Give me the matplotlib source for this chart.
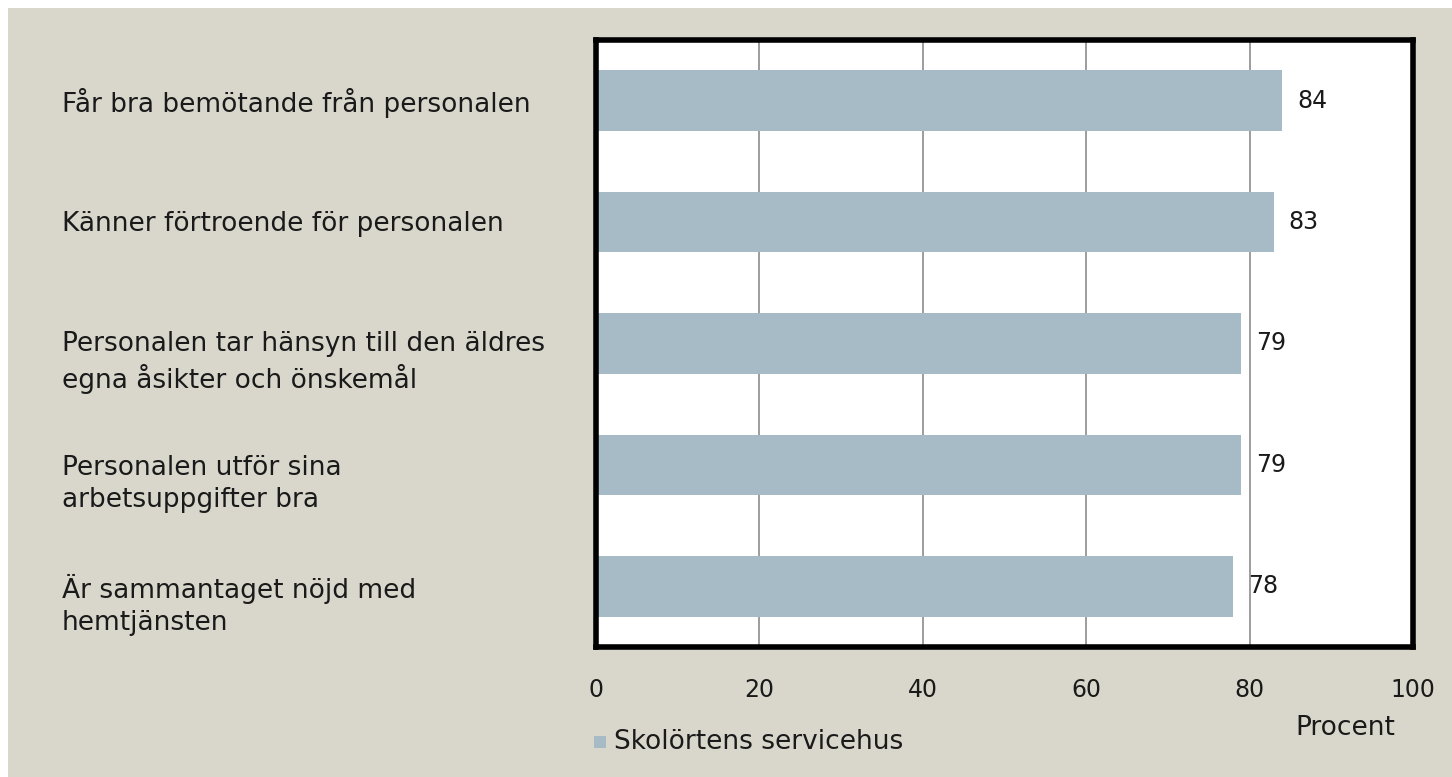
import numpy as np
import matplotlib.pyplot as plt
from matplotlib.patches import Rectangle

# data
categories = [
    "Får bra bemötande från personalen",
    "Känner förtroende för personalen",
    "Personalen tar hänsyn till den äldres\negna åsikter och önskemål",
    "Personalen utför sina\narbetsuppgifter bra",
    "Är sammantaget nöjd med\nhemtjänsten",
]
values = [84, 83, 79, 79, 78]
series_name = "Skolörtens servicehus"
xticks = [0, 20, 40, 60, 80, 100]

plt.rcParams['font.family'] = ['DejaVu Sans']

bg = '#d9d7cb'
bar_col = '#a6bbc6'
txt = '#1a1a1a'
fs_lab = 19    # category / legend / axis title
fs_num = 17    # ticks and bar values
W, H = 1452, 777

fig = plt.figure(figsize=(W / 100, H / 100), dpi=100)
fig.patch.set_facecolor('white')
# beige panel, leaves a thin white strip on top and left
fig.patches.append(Rectangle((8 / W, 0), 1, 1 - 8 / H, transform=fig.transFigure,
                             facecolor=bg, edgecolor='none', zorder=-10))

left, right, top, bottom = 596, 1413, 40, 647
ax = fig.add_axes([left / W, 1 - bottom / H, (right - left) / W, (bottom - top) / H])
ax.set_facecolor('white')

y = np.arange(len(categories))
ax.barh(y, values, height=0.5, color=bar_col, zorder=2)
ax.set_xlim(0, 100)
ax.set_ylim(len(categories) - 0.5, -0.5)
ax.set_xticks(xticks)
ax.set_xticklabels([str(t) for t in xticks], fontsize=fs_num, color=txt)
ax.tick_params(axis='x', length=0, pad=22)
ax.set_yticks([])
ax.grid(axis='x', color='#8c8c8c', linewidth=1.2, zorder=1)
for s in ax.spines.values():
    s.set_linewidth(4)
    s.set_color('black')

for yi, v in zip(y, values):
    ax.text(v + 1.8, yi, str(v), va='center', ha='left', fontsize=fs_num, color=txt)

# category labels, left aligned; first line sits at bar centre
line_gap = 34
for yi, c in zip(y, categories):
    n = c.count('\n') + 1
    yd = ax.transData.transform((0, yi))[1] - 2 - (n - 1) * line_gap / 2
    fig.text(62 / W, yd / H, c, ha='left', va='center', fontsize=fs_lab,
             color=txt, linespacing=1.3)

fig.text(1345 / W, 1 - 728 / H, "Procent", ha='center', va='center', fontsize=fs_lab, color=txt)

# legend
fig.patches.append(Rectangle((594 / W, 1 - 748 / H), 12 / W, 12 / H, transform=fig.transFigure,
                             facecolor=bar_col, edgecolor='none'))
fig.text(614 / W, 1 - 742 / H, series_name, ha='left', va='center', fontsize=fs_lab, color=txt)

fig.savefig('out.png', dpi=100, facecolor=fig.get_facecolor())
